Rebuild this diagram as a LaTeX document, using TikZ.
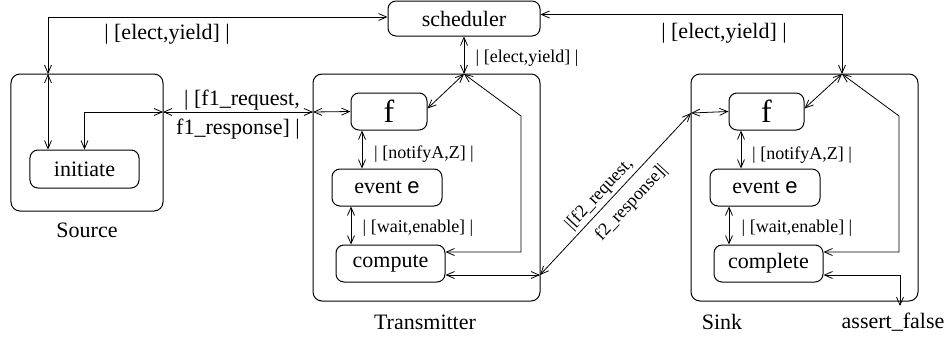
\documentclass[tikz,border=0pt]{standalone}
\usepackage{fontspec}
\setmainfont{Liberation Serif}
\newfontfamily\sanse{Liberation Sans}
\usetikzlibrary{arrows.meta}

\begin{document}
\begin{tikzpicture}[x=1bp, y=-1bp, line width=.8bp,
    >={Straight Barb[length=8bp,width=7bp]},
    comp/.style={draw, rounded corners=9bp, line width=1bp},
    st/.style={draw, rounded corners=8bp, line width=1bp, inner sep=0pt,
      font=\fontsize{22bp}{24bp}\selectfont},
    big/.style={font=\fontsize{22bp}{24bp}\selectfont, inner sep=1bp},
    sml/.style={font=\fontsize{18bp}{20bp}\selectfont, inner sep=1bp}]
  \useasboundingbox (0,0) rectangle (946,341);

  % components
  \node[st, minimum width=152bp, minimum height=35bp] (sched) at (464,18.5) {scheduler};
  \node[comp, minimum width=152bp, minimum height=137bp] (source) at (87,142.5) {};
  \node[comp, minimum width=227bp, minimum height=227bp] (trans) at (426.5,187.5) {};
  \node[comp, minimum width=227bp, minimum height=227bp] (sink) at (804.5,187.5) {};
  \node[big] (lsource) at (87,230) {Source};
  \node[big] (ltrans) at (425,322) {Transmitter};
  \node[big] (lsink) at (722,322) {Sink};
  \node[big] (afalse) at (893,322) {assert\_false};

  % states
  \node[st, minimum width=109bp, minimum height=38bp] (initiate) at (84.5,169) {initiate};
  \node[st, minimum width=76bp, minimum height=37bp, font=\fontsize{32bp}{34bp}\selectfont] (tf) at (389,111.5) {f};
  \node[st, minimum width=110bp, minimum height=37bp] (te) at (387,187.5) {event {\sanse e}};
  \node[st, minimum width=109bp, minimum height=37bp] (tc) at (390.5,263.5) {compute};
  \node[st, minimum width=75bp, minimum height=37bp, font=\fontsize{32bp}{34bp}\selectfont] (sf) at (766.5,111.5) {f};
  \node[st, minimum width=110bp, minimum height=37bp] (se) at (765,187.5) {event {\sanse e}};
  \node[st, minimum width=109bp, minimum height=37bp] (sc) at (768.5,263.5) {complete};

  % ports and bends
  \coordinate (srcTop) at (48,74);
  \coordinate (srcEast) at (163,112);
  \coordinate (trWest) at (313,112);
  \coordinate (trTop) at (464,74);
  \coordinate (trEast) at (540,275);
  \coordinate (tLoopA) at (521,116);
  \coordinate (tLoopB) at (521,252);
  \coordinate (skWest) at (691,113);
  \coordinate (skTop) at (842,74);
  \coordinate (sLoopA) at (899,116);
  \coordinate (sLoopB) at (899,252);
  \coordinate (sAf) at (900,275);
  \coordinate (afEnd) at (900,306);
  \coordinate (tx1) at (362,0);
  \coordinate (tx2) at (351,0);
  \coordinate (sx1) at (741,0);
  \coordinate (sx2) at (729,0);

  % source
  \draw[<->] (srcTop) |- ([yshift=1.5bp]sched.west);
  \draw[<->] (srcTop) -- (srcTop |- initiate.north);
  \draw[<->] (initiate.north) |- (srcEast);
  \draw[<->] (srcEast) -- (trWest);
  \node[big] (lelectL) at (167,34) {\textbar\ [elect,yield] \textbar};
  \node[big] (lf1a) at (242,100) {\textbar\ [f1\_request,};
  \node[big] (lf1b) at (238,129) {f1\_response] \textbar};

  % transmitter
  \draw[<->] (trWest) -- (tf.west);
  \draw[<->] (sched.south) -- (trTop);
  \draw[<->] (trTop) -- ([yshift=3bp]tf.east);
  \draw[<->] (trTop) -- (tLoopA) -- (tLoopB) -- (tc.east |- tLoopB);
  \draw[<->] (tf.south -| tx1) -- (te.north -| tx1);
  \draw[<->] (te.south -| tx2) -- (tc.north -| tx2);
  \draw[<->] (tc.east |- trEast) -- (trEast);
  \node[sml] (lelectM) at (527,58) {\textbar\ [elect,yield] \textbar};
  \node[sml] (lnotT) at (424,154) {\textbar\ [notifyA,Z] \textbar};
  \node[sml] (lwaitT) at (418,228) {\textbar\ [wait,enable] \textbar};

  % transmitter to sink
  \draw[<->] (trEast) -- (skWest)
    node[sml, sloped, pos=.45, above=2bp] (lf2a) {\textbar[f2\_request,}
    node[sml, sloped, pos=.52, below=8bp] (lf2b) {f2\_response]\textbar};

  % sink
  \draw[<->] (skWest) -- (sf.west);
  \draw[<->] ([yshift=4bp]sched.east) -| (skTop);
  \draw[<->] (skTop) -- ([yshift=3bp]sf.east);
  \draw[<->] (skTop) -- (sLoopA) -- (sLoopB) -- (sc.east |- sLoopB);
  \draw[<->] (sf.south -| sx1) -- (se.north -| sx1);
  \draw[<->] (se.south -| sx2) -- (sc.north -| sx2);
  \draw[<->] (sc.east |- sAf) -- (sAf) -- (afEnd);
  \node[big] (lelectR) at (724,33) {\textbar\ [elect,yield] \textbar};
  \node[sml] (lnotS) at (802,155) {\textbar\ [notifyA,Z] \textbar};
  \node[sml] (lwaitS) at (797,228) {\textbar\ [wait,enable] \textbar};
\end{tikzpicture}
\end{document}
